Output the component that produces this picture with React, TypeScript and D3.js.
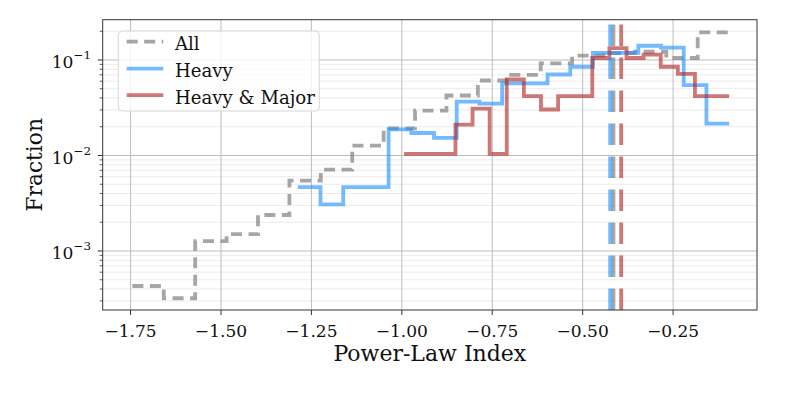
import React, { useEffect, useRef } from "react";
import * as d3 from "d3";

// histogram ranges (first / last bin edge) and per-bin fractions
const allRange = [-1.745, -0.095];
const allFrac = [4.3e-4, 3.2e-4, 1.27e-3, 1.5e-3, 2.38e-3, 5.45e-3, 7.1e-3, 0.0127, 0.0192, 0.0295, 0.0425, 0.061, 0.0697, 0.092, 0.111, 0.118, 0.122, 0.105, 0.195];

const heavyRange = [-1.2876, -0.095];
const heavyFrac = [4.66e-3, 3.07e-3, 4.66e-3, 4.66e-3, 0.0188, 0.0172, 0.0153, 0.0366, 0.0349, 0.0568, 0.0568, 0.0705, 0.085, 0.119, 0.119, 0.141, 0.135, 0.0545, 0.0216];

const majorRange = [-0.9936, -0.095];
const majorFrac = [0.0104, 0.0104, 0.0104, 0.021, 0.031, 0.0104, 0.0625, 0.0418, 0.0303, 0.0418, 0.0418, 0.105, 0.133, 0.105, 0.114, 0.085, 0.0716, 0.0418, 0.0418];

// mean index per sample: All, Heavy, Heavy & Major
const meanIndex = [-0.415, -0.424, -0.3935];
const seriesNames = ["All", "Heavy", "Heavy & Major"];

const xTicks = [-1.75, -1.5, -1.25, -1.0, -0.75, -0.5, -0.25];
const yTicks = [1e-3, 1e-2, 1e-1];
const yTickExp = ["−3", "−2", "−1"];

const W = 789;
const H = 395;
const FONT = "'DejaVu Serif', serif";

// scale a text's font size so that it spans the wanted width
const fitText = (sel: any, base: number, target: number) => {
    sel.style("font-size", base + "px");
    const w = (sel.node() as SVGTextElement).getComputedTextLength();
    const size = w > 0 ? base * target / w : base;
    sel.style("font-size", size + "px");
    return size;
};

const App = () => {
    const ref = useRef<SVGSVGElement>(null);

    useEffect(() => {
        const svg = d3.select(ref.current);
        svg.selectAll("*").remove();

        const left = 102.7, right = 757, top = 19.7, bottom = 310;

        const x = d3.scaleLinear().domain([-1.827, -0.018]).range([left, right]);
        const y = d3.scaleLog().domain([Math.pow(10, -3.618), Math.pow(10, -0.578)]).range([bottom, top]);

        const series = [
            { range: allRange, vals: allFrac, color: "#808080", op: 0.7, dash: "11,6.5" },
            { range: heavyRange, vals: heavyFrac, color: "dodgerblue", op: 0.62, dash: null },
            { range: majorRange, vals: majorFrac, color: "firebrick", op: 0.62, dash: null },
        ];

        svg.append("rect")
            .attr("x", 0).attr("y", 0).attr("width", W).attr("height", H)
            .attr("fill", "#fff");

        // grid: minor y first, then major
        const minor = y.ticks().filter(t => !yTicks.some(m => Math.abs(m - t) / m < 1e-6));
        svg.append("g")
            .selectAll("line")
            .data(minor)
            .enter()
            .append("line")
            .attr("x1", left).attr("x2", right)
            .attr("y1", d => y(d)).attr("y2", d => y(d))
            .attr("stroke", "#e9e9e9")
            .attr("stroke-width", 0.9);

        svg.append("g")
            .selectAll("line")
            .data(yTicks)
            .enter()
            .append("line")
            .attr("x1", left).attr("x2", right)
            .attr("y1", d => y(d)).attr("y2", d => y(d))
            .attr("stroke", "#bdbdbd")
            .attr("stroke-width", 1);

        svg.append("g")
            .selectAll("line")
            .data(xTicks)
            .enter()
            .append("line")
            .attr("x1", d => x(d)).attr("x2", d => x(d))
            .attr("y1", top).attr("y2", bottom)
            .attr("stroke", "#bdbdbd")
            .attr("stroke-width", 1);

        // step histograms
        const line = d3.line<[number, number]>()
            .x(d => x(d[0]))
            .y(d => y(d[1]))
            .curve(d3.curveStepAfter);

        series.forEach(s => {
            const n = s.vals.length;
            const edge = d3.scaleLinear().domain([0, n]).range(s.range);
            const pts: [number, number][] = s.vals.map((v, i) => [edge(i), v] as [number, number]);
            pts.push([edge(n), s.vals[n - 1]]);
            svg.append("path")
                .attr("d", line(pts))
                .attr("fill", "none")
                .attr("stroke", s.color)
                .attr("stroke-opacity", s.op)
                .attr("stroke-width", 3.8)
                .attr("stroke-dasharray", s.dash)
                .attr("stroke-linejoin", "miter")
                .attr("stroke-linecap", "butt");
        });

        // mean lines
        series.forEach((s, i) => {
            svg.append("line")
                .attr("x1", x(meanIndex[i])).attr("x2", x(meanIndex[i]))
                .attr("y1", bottom).attr("y2", top)
                .attr("stroke", s.color)
                .attr("stroke-opacity", s.op)
                .attr("stroke-width", 3.8)
                .attr("stroke-dasharray", "21.5,11.5");
        });

        // frame
        svg.append("rect")
            .attr("x", left).attr("y", top)
            .attr("width", right - left).attr("height", bottom - top)
            .attr("fill", "none")
            .attr("stroke", "#333")
            .attr("stroke-width", 1);

        // x ticks
        const xg = svg.append("g");
        const probe = xg.append("text").style("font-family", FONT).text("−1.75");
        const tickSize = fitText(probe, 18, 52.3);
        probe.remove();
        xTicks.forEach(t => {
            xg.append("line")
                .attr("x1", x(t)).attr("x2", x(t))
                .attr("y1", bottom).attr("y2", bottom + 5)
                .attr("stroke", "#333");
            xg.append("text")
                .attr("x", x(t)).attr("y", 336.7)
                .attr("text-anchor", "middle")
                .style("font-family", FONT)
                .style("font-size", tickSize + "px")
                .attr("fill", "#111")
                .text(d3.format(".2f")(t));
        });

        // y ticks
        const yg = svg.append("g");
        minor.forEach(t => {
            yg.append("line")
                .attr("x1", left - 3).attr("x2", left)
                .attr("y1", y(t)).attr("y2", y(t))
                .attr("stroke", "#333")
                .attr("stroke-width", 0.8);
        });
        yTicks.forEach((t, i) => {
            yg.append("line")
                .attr("x1", left - 5).attr("x2", left)
                .attr("y1", y(t)).attr("y2", y(t))
                .attr("stroke", "#333");
            const txt = yg.append("text")
                .attr("x", 91).attr("y", y(t) + 8.3)
                .attr("text-anchor", "end")
                .style("font-family", FONT)
                .attr("fill", "#111");
            txt.append("tspan").style("font-size", tickSize + "px").text("10");
            txt.append("tspan").attr("dy", -9).style("font-size", (tickSize * 0.7) + "px").text(yTickExp[i]);
        });

        // axis labels
        const xl = svg.append("text")
            .attr("x", (left + right) / 2).attr("y", 361)
            .attr("text-anchor", "middle")
            .style("font-family", FONT)
            .attr("fill", "#111")
            .text("Power-Law Index");
        fitText(xl, 20, 193);

        const yl = svg.append("text")
            .attr("transform", `translate(41.7, ${(top + bottom) / 2}) rotate(-90)`)
            .attr("text-anchor", "middle")
            .style("font-family", FONT)
            .attr("fill", "#111")
            .text("Fraction");
        fitText(yl, 21, 93.7);

        // legend
        const lg = svg.append("g");
        lg.append("rect")
            .attr("x", 118.3).attr("y", 31)
            .attr("width", 201).attr("height", 80)
            .attr("rx", 4)
            .attr("fill", "#fff").attr("fill-opacity", 0.8)
            .attr("stroke", "#d6d6d6");
        const rowY = [50, 77, 103.5];
        const legProbe = lg.append("text").style("font-family", FONT).text(seriesNames[2]);
        const legSize = fitText(legProbe, 18, 140);
        legProbe.remove();
        series.forEach((s, i) => {
            lg.append("line")
                .attr("x1", 126.7).attr("x2", 163.3)
                .attr("y1", rowY[i] - 8.3).attr("y2", rowY[i] - 8.3)
                .attr("stroke", s.color)
                .attr("stroke-opacity", s.op)
                .attr("stroke-width", 3.8)
                .attr("stroke-dasharray", s.dash);
            lg.append("text")
                .attr("x", 175).attr("y", rowY[i])
                .style("font-family", FONT)
                .style("font-size", legSize + "px")
                .attr("fill", "#111")
                .text(seriesNames[i]);
        });
    }, []);

    return (
        <svg
            ref={ref}
            width={W}
            height={H}
            style={{ position: "absolute", left: 0, top: 0, display: "block" }}
        ></svg>
    );
};

export default App;
